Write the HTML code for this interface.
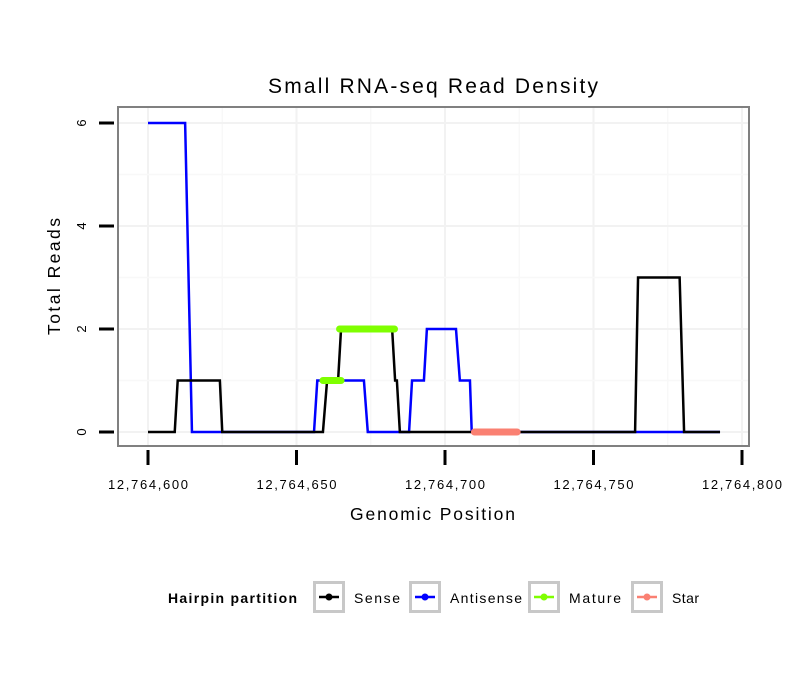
<!DOCTYPE html>
<html><head><meta charset="utf-8"><style>
body{margin:0;background:#fff;font-family:"Liberation Sans",sans-serif}
</style></head><body>
<svg id="c" width="810" height="690" xmlns="http://www.w3.org/2000/svg" font-family="Liberation Sans, sans-serif">
<text x="268" y="93" font-size="21" textLength="330" lengthAdjust="spacing">Small RNA-seq Read Density</text>
<rect x="118" y="107" width="631" height="339" fill="#fff"/>
<g id="grid"></g><g id="series"></g>
<rect x="118" y="107" width="631" height="339" fill="none" stroke="#808080" stroke-width="2"/>
<g id="axes"></g>
<text x="350" y="520" font-size="17.5" textLength="165" lengthAdjust="spacing">Genomic Position</text>
<text transform="translate(60,335) rotate(-90)" font-size="17.5" textLength="117" lengthAdjust="spacing">Total Reads</text>
<g id="legend">
<text x="168" y="603" font-size="14" font-weight="bold" textLength="129" lengthAdjust="spacing">Hairpin partition</text>
</g>
</svg>
<script>
const xTicks=[12764600,12764650,12764700,12764750,12764800];
const xTickLabels=["12,764,600","12,764,650","12,764,700","12,764,750","12,764,800"];
const yTicks=[0,2,4,6];
const senseX=[12764600,12764609,12764610,12764624.2,12764625,12764658.9,12764660.3,12764664,12764665,12764682.2,12764683.2,12764683.8,12764684.8,12764764,12764765,12764779,12764780.5,12764792.6];
const senseY=[0,0,1,1,0,0,1,1,2,2,1,1,0,0,3,3,0,0];
const antiX=[12764600,12764612.5,12764614.8,12764655.9,12764657,12764672.7,12764674,12764687.9,12764688.9,12764692.9,12764693.9,12764703.7,12764705,12764708.4,12764709,12764792.6];
const antiY=[6,6,0,0,1,1,0,0,1,1,2,2,1,1,0,0];
const matureSegs=[[12764658.9,12764665,1],[12764664.5,12764683,2]];
const starSegs=[[12764709.9,12764724.3,0]];
const legendLabels=["Sense","Antisense","Mature","Star"];
const legendColors=["#000000","#0000ff","#7fff00","#fa8072"];
const legendLens=[46,72,52,27];
const NS="http://www.w3.org/2000/svg";
const X=v=>148+(v-12764600)*2.97;
const Y=v=>432-v*51.5;
function mk(t,a,p){const e=document.createElementNS(NS,t);for(const k in a)e.setAttribute(k,a[k]);p.appendChild(e);return e;}
const grid=document.getElementById('grid'),axes=document.getElementById('axes'),ser=document.getElementById('series'),leg=document.getElementById('legend');
xTicks.forEach((v,i)=>{
 const g=mk('line',{x1:X(v),x2:X(v),y1:107,y2:446,stroke:'#f2f2f2','stroke-width':2},grid);
 
 
 if(i<xTicks.length-1){const m=mk('line',{x1:X(v+25),x2:X(v+25),y1:107,y2:446,stroke:'#f8f8f8','stroke-width':1.5},grid);
 
 }
 const t=mk('line',{x1:X(v),x2:X(v),y1:450,y2:465,stroke:'#000','stroke-width':3},axes);
 
 
 const l=mk('text',{x:X(v)-40,y:489,'font-size':13,textLength:80,lengthAdjust:'spacing'},axes);l.textContent=xTickLabels[i];
 
 
});
yTicks.forEach((v,i)=>{
 const g=mk('line',{x1:118,x2:749,y1:Y(v),y2:Y(v),stroke:'#f2f2f2','stroke-width':2},grid);
 
 
 if(i<yTicks.length-1){const m=mk('line',{x1:118,x2:749,y1:Y(v+1),y2:Y(v+1),stroke:'#f8f8f8','stroke-width':1.5},grid);
 
 }
 const t=mk('line',{x1:99,x2:114,y1:Y(v),y2:Y(v),stroke:'#000','stroke-width':3},axes);
 
 
 const l=mk('text',{transform:`translate(86,${Y(v)}) rotate(-90)`,'font-size':13,'text-anchor':'middle'},axes);l.textContent=v;
 
 
});
function line(xs,ys,col,name){
 const p=mk('polyline',{points:xs.map((x,i)=>X(x)+','+Y(ys[i])).join(' '),fill:'none',stroke:col,'stroke-width':2.5},ser);
 
 
}
line(antiX,antiY,'#0000ff','antisense-line');
line(senseX,senseY,'#000','sense-line');
function segs(arr,col,name){arr.forEach(s=>{
 const l=mk('line',{x1:X(s[0]),x2:X(s[1]),y1:Y(s[2]),y2:Y(s[2]),stroke:col,'stroke-width':7,'stroke-linecap':'round'},ser);
 
 
});}
segs(matureSegs,'#7fff00','mature-segment');
segs(starSegs,'#fa8072','star-segment');
const lx=[313,409,528,631];
legendLabels.forEach((lab,i)=>{
 const x=lx[i];
 const b=mk('rect',{x:x+1.5,y:582.5,width:29,height:29,fill:'#fff',stroke:'#c8c8c8','stroke-width':3},leg);
 
 
 mk('line',{x1:x+6,x2:x+26,y1:597,y2:597,stroke:legendColors[i],'stroke-width':2.5},leg);
 mk('circle',{cx:x+16,cy:597,r:3.5,fill:legendColors[i]},leg);
 const t=mk('text',{x:x+41,y:603,'font-size':14,textLength:legendLens[i],lengthAdjust:'spacing'},leg);t.textContent=lab;
 
 
});
</script>
</body></html>
